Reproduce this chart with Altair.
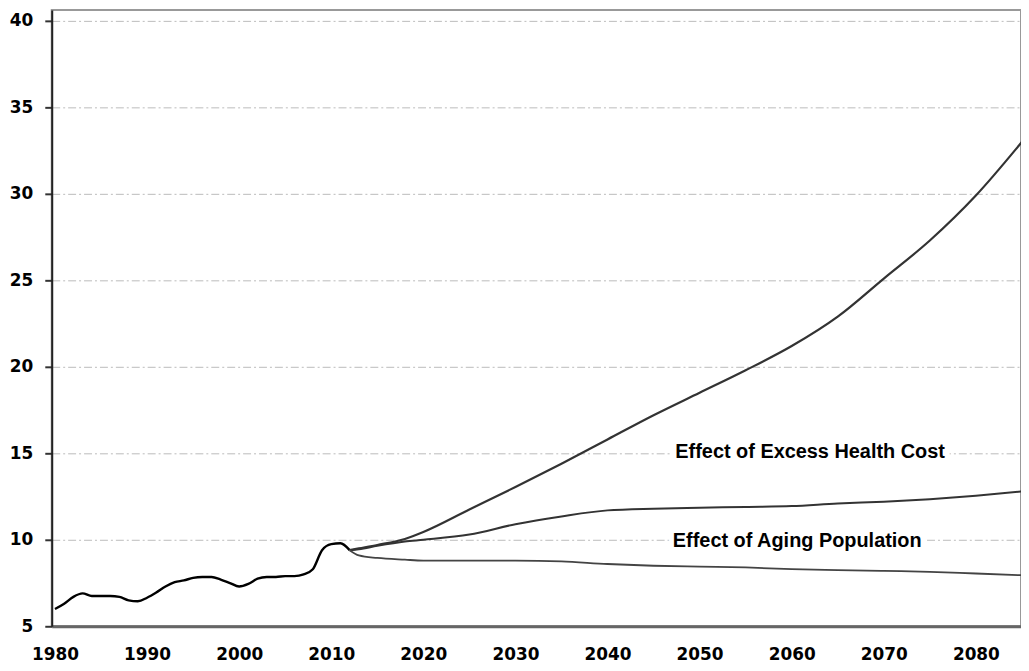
import altair as alt
import pandas as pd

# Historical series (1980-2012)
hist_years = list(range(1980, 2013))
hist_vals = [6.0, 6.3, 6.7, 6.9, 6.75, 6.75, 6.75, 6.7, 6.5, 6.45,
             6.65, 6.95, 7.3, 7.55, 7.65, 7.8, 7.85, 7.85, 7.7, 7.5,
             7.3, 7.45, 7.75, 7.85, 7.85, 7.9, 7.9, 8.0, 8.3, 9.4,
             9.75, 9.8, 9.4]

# Projections
proj_years = [2012, 2013, 2015, 2018, 2020, 2025, 2030, 2035, 2040, 2045,
              2050, 2055, 2060, 2065, 2070, 2075, 2080, 2085]
excess_vals = [9.4, 9.5, 9.7, 10.05, 10.45, 11.75, 13.05, 14.4, 15.8, 17.2,
               18.5, 19.8, 21.2, 22.9, 25.1, 27.3, 29.9, 33.0]
aging_vals = [9.4, 9.45, 9.65, 9.9, 10.0, 10.3, 10.9, 11.35, 11.7, 11.8,
              11.85, 11.9, 11.95, 12.1, 12.2, 12.35, 12.55, 12.8]
base_vals = [9.4, 9.1, 8.95, 8.85, 8.8, 8.8, 8.8, 8.75, 8.6, 8.5,
             8.45, 8.4, 8.3, 8.25, 8.2, 8.15, 8.05, 7.95]

# Annotation labels
label_texts = ["Effect of Excess Health Cost", "Effect of Aging Population"]
label_years = [2062.0, 2060.6]
label_vals = [15.05, 9.9]

x_ticks = list(range(1980, 2090, 10))
y_ticks = list(range(5, 45, 5))

rows = []
for y, v in zip(hist_years, hist_vals):
    rows.append({"year": y, "value": v, "series": "history"})
for name, vals in [("excess", excess_vals), ("aging", aging_vals), ("base", base_vals)]:
    for y, v in zip(proj_years, vals):
        rows.append({"year": y, "value": v, "series": name})
df = pd.DataFrame(rows)

lab = pd.DataFrame({"year": label_years, "value": label_vals, "label": label_texts})

x_enc = alt.X(
    "year:Q",
    scale=alt.Scale(domain=[1979.65, 2084.9], nice=False, zero=False),
    axis=alt.Axis(
        values=x_ticks, format="d", title=None, grid=False,
        tickSize=0, labelPadding=20,
        labelFont="DejaVu Sans", labelFontWeight="bold", labelFontSize=17,
        labelColor="black",
        domainColor="#666666", domainWidth=3,
    ),
)
y_enc = alt.Y(
    "value:Q",
    scale=alt.Scale(domain=[5, 40.63], nice=False, zero=False),
    axis=alt.Axis(
        values=y_ticks, title=None, grid=True,
        gridColor="#bbbbbb", gridDash=[8, 3, 2, 3], gridWidth=1,
        tickSize=7, tickColor="#333333", tickWidth=2, labelPadding=12,
        labelFont="DejaVu Sans", labelFontWeight="bold", labelFontSize=17,
        labelColor="black",
        domainColor="#222222", domainWidth=2,
    ),
)

lines = alt.Chart(df).mark_line(interpolate="monotone", clip=True).encode(
    x=x_enc,
    y=y_enc,
    color=alt.Color("series:N",
                    scale=alt.Scale(domain=["history", "excess", "aging", "base"],
                                    range=["#000000", "#333333", "#333333", "#444444"]),
                    legend=None),
    strokeWidth=alt.StrokeWidth("series:N",
                                scale=alt.Scale(domain=["history", "excess", "aging", "base"],
                                                range=[2.4, 1.8, 1.8, 1.8]),
                                legend=None),
)

halo = alt.Chart(lab).mark_text(
    font="Liberation Sans", fontWeight="bold", fontSize=20,
    align="center", baseline="middle", color="white",
    stroke="white", strokeWidth=10,
).encode(x=x_enc, y=y_enc, text="label:N")

texts = alt.Chart(lab).mark_text(
    font="Liberation Sans", fontWeight="bold", fontSize=20,
    align="center", baseline="middle", color="black",
).encode(x=x_enc, y=y_enc, text="label:N")

chart = alt.layer(lines, halo, texts).properties(
    width=975, height=620,
    autosize=alt.AutoSizeParams(type="none"),
    padding={"left": 44, "top": 0, "right": 0, "bottom": 35},
    background="white",
).configure_view(stroke="#999999", strokeWidth=2)

chart.save("out.html", embed_options={"renderer": "svg", "actions": False})
